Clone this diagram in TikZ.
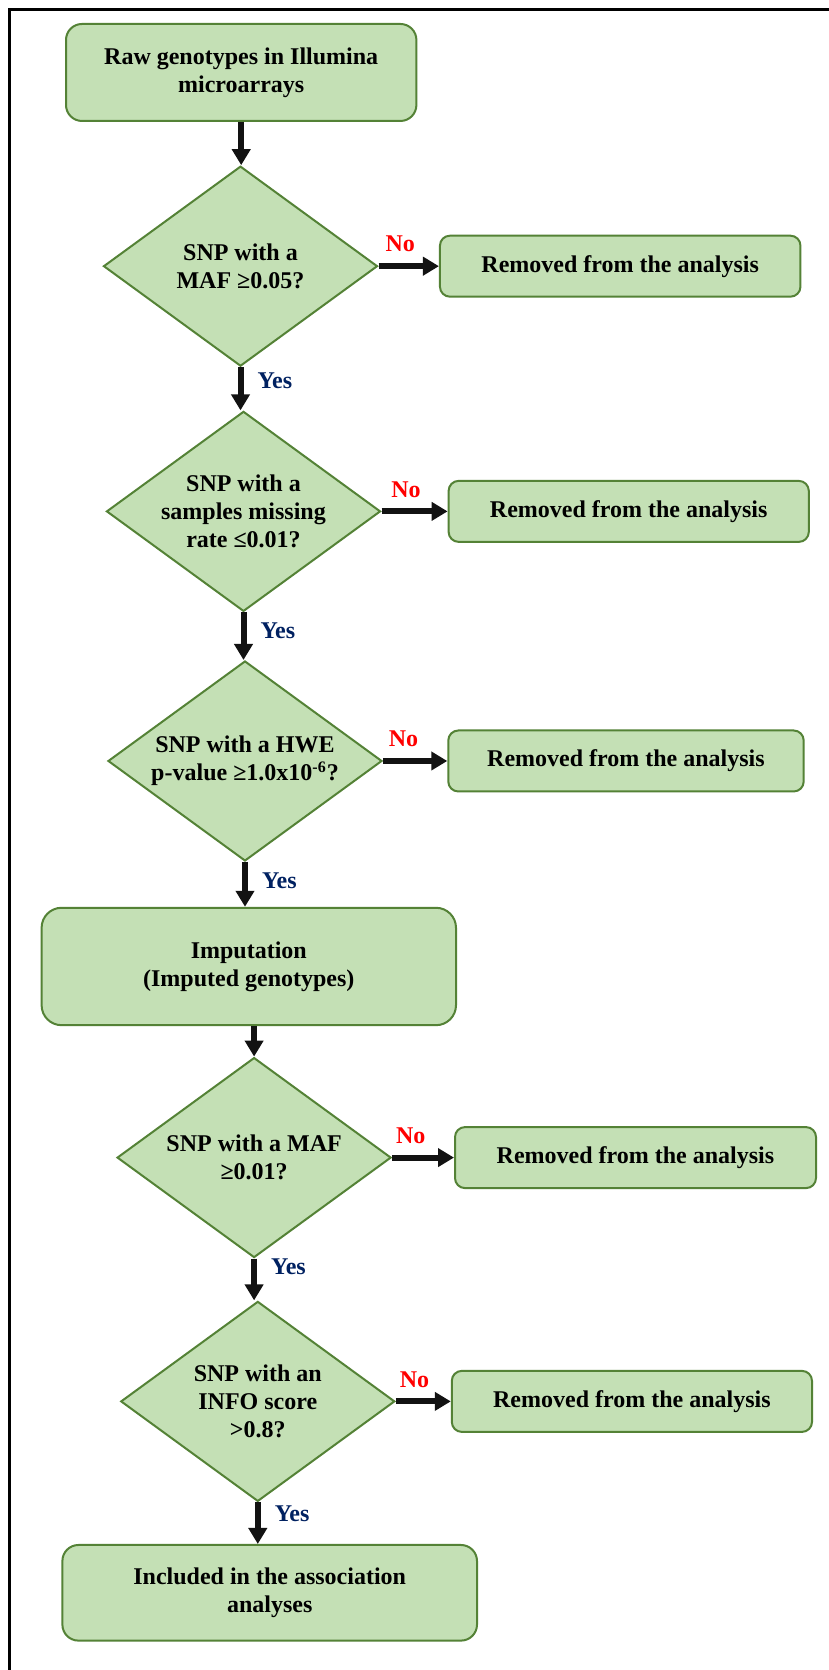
\documentclass[tikz,border=0pt]{standalone}
\usepackage{fontspec}
\setmainfont{Liberation Serif}
\usetikzlibrary{shapes.geometric,arrows.meta}
\begin{document}
\begin{tikzpicture}[x=1pt,y=1pt,
	stepbox/.style={draw=borderColor,line width=1pt,fill=fillColor,rounded corners=8pt,align=center,inner sep=0pt,font=\fontsize{12}{14}\selectfont\bfseries},
	dropbox/.style={stepbox,rounded corners=5pt,minimum height=30.5pt},
	testbox/.style={diamond,aspect=1.37,draw=borderColor,line width=1pt,fill=fillColor,align=center,inner sep=0pt,minimum width=137pt,minimum height=100pt,font=\fontsize{12}{14}\selectfont\bfseries},
	flow/.style={draw=arrowColor,line width=3pt,-{Triangle[length=8pt,width=9pt]}},
	nolabel/.style={text=noColor,font=\fontsize{12}{14}\selectfont\bfseries,inner sep=0pt,above=5.5pt},
	yeslabel/.style={text=yesColor,font=\fontsize{12}{14}\selectfont\bfseries,inner sep=0pt,right=7pt}]
\definecolor[named]{fillColor}{rgb}{0.77,0.88,0.71}
\definecolor[named]{borderColor}{rgb}{0.33,0.51,0.21}
\definecolor[named]{arrowColor}{rgb}{0.07,0.07,0.07}
\definecolor[named]{noColor}{rgb}{1.00,0.00,0.00}
\definecolor[named]{yesColor}{rgb}{0.00,0.13,0.38}
\definecolor[named]{frameColor}{rgb}{0.00,0.00,0.00}
\path[use as bounding box,fill=white] (0,0) rectangle (414.5,835);

\path[draw=frameColor,line width=1.3pt] (  4.75,  0.00) -- (  4.75,830.35) -- (414.50,830.35);

\node[stepbox,minimum width=175.2pt,minimum height=48.5pt] (raw) at (120.60,798.75) {Raw genotypes in Illumina\\microarrays};

\node[testbox] (maf1) at (120.25,701.90) {SNP with a\\MAF ≥0.05?};
\node[dropbox,minimum width=180.25pt] (drop1) at (310.10,701.90) {Removed from the analysis};

\node[testbox] (miss) at (121.75,579.30) {SNP with a\\samples missing\\rate ≤0.01?};
\node[dropbox,minimum width=180.1pt] (drop2) at (314.35,579.30) {Removed from the analysis};

\node[testbox] (hwe) at (122.50,454.50) {SNP with a HWE\\p-value ≥1.0x10\textsuperscript{-6}?};
\node[dropbox,minimum width=177.7pt] (drop3) at (313.00,454.50) {Removed from the analysis};

\node[stepbox,rounded corners=10pt,minimum width=207.2pt,minimum height=58.7pt] (imp) at (124.40,351.75) {Imputation\\(Imputed genotypes)};

\node[testbox] (maf2) at (127.05,256.20) {SNP with a MAF\\≥0.01?};
\node[dropbox,minimum width=180.5pt] (drop4) at (317.75,256.20) {Removed from the analysis};

\node[testbox] (info) at (128.90,134.30) {SNP with an\\INFO score\\>0.8?};
\node[dropbox,minimum width=180.1pt] (drop5) at (315.95,134.30) {Removed from the analysis};

\node[stepbox,minimum width=207.3pt,minimum height=47.8pt] (incl) at (134.85, 38.60) {Included in the association\\analyses};

\draw[flow] (raw.south) -- (raw.south |- maf1.north);
\draw[flow] (maf1.east) -- node[nolabel,pos=0.36] (no1) {No} (drop1.west);
\draw[flow] (maf1.south) -- node[yeslabel,pos=0.32] (yes1) {Yes} (maf1.south |- miss.north);
\draw[flow] (miss.east) -- node[nolabel,pos=0.37] (no2) {No} (drop2.west);
\draw[flow] (miss.south) -- node[yeslabel,pos=0.38] (yes2) {Yes} (miss.south |- hwe.north);
\draw[flow] (hwe.east) -- node[nolabel,pos=0.32] (no3) {No} (drop3.west);
\draw[flow] (hwe.south) -- node[yeslabel,pos=0.43] (yes3) {Yes} (hwe.south |- imp.north);
\draw[flow] (imp.south -| maf2.north) -- (maf2.north);
\draw[flow] (maf2.east) -- node[nolabel,pos=0.30] (no4) {No} (drop4.west);
\draw[flow] (maf2.south) -- node[yeslabel,pos=0.20] (yes4) {Yes} (maf2.south |- info.north);
\draw[flow] (info.east) -- node[nolabel,pos=0.34] (no5) {No} (drop5.west);
\draw[flow] (info.south) -- node[yeslabel,pos=0.27] (yes5) {Yes} (info.south |- incl.north);
\end{tikzpicture}
\end{document}
